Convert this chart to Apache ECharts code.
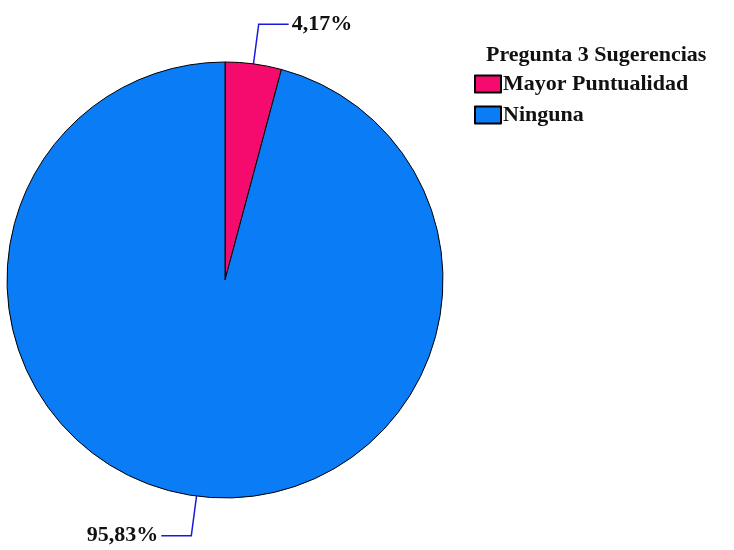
<!DOCTYPE html>
<html>
<head>
<meta charset="utf-8">
<script src="https://cdn.jsdelivr.net/npm/echarts@6/dist/echarts.min.js"></script>
<style>
  html, body { margin: 0; padding: 0; background: #ffffff; }
  #chart { width: 734px; height: 550px; }
</style>
</head>
<body>
<div id="chart"></div>
<script>
// Chart data
const categories = ["Mayor Puntualidad", "Ninguna"];
const percentages = [4.17, 95.83];
const sliceColors = ["#f50a6e", "#0a7cf5"];
const legendTitle = "Pregunta 3 Sugerencias";

const chart = echarts.init(document.getElementById("chart"));

const font = "'Liberation Serif', 'Times New Roman', serif";

const option = {
  animation: false,
  title: {
    text: legendTitle,
    left: 481,
    top: 39,
    textStyle: {
      fontFamily: font,
      fontSize: 22,
      fontWeight: "bold",
      color: "#111",
    },
  },
  legend: {
    orient: "vertical",
    left: 469,
    top: 68,
    itemWidth: 26,
    itemHeight: 17,
    itemGap: 9,
    icon: "rect",
    selectedMode: false,
    data: categories,
    textStyle: {
      fontFamily: font,
      fontSize: 22,
      fontWeight: "bold",
      color: "#111",
      padding: [0, 0, 0, -3],
    },
  },
  series: [
    {
      type: "pie",
      center: [225, 280],
      radius: 218,
      startAngle: 90,
      clockwise: true,
      data: categories.map((name, i) => ({
        name: name,
        value: percentages[i],
        itemStyle: { color: sliceColors[i] },
      })),
      itemStyle: {
        borderColor: "#000",
        borderWidth: 1,
      },
      label: {
        show: true,
        position: "outside",
        formatter: (p) => p.value.toFixed(2).replace(".", ",") + "%",
        fontFamily: font,
        fontSize: 22,
        fontWeight: "bold",
        color: "#111",
        distanceToLabelLine: 3,
      },
      labelLine: {
        show: true,
        length: 40,
        length2: 30,
        lineStyle: { color: "#1a1adf", width: 1.5 },
      },
      emphasis: { disabled: true },
    },
  ],
};

chart.setOption(option);
</script>
</body>
</html>
